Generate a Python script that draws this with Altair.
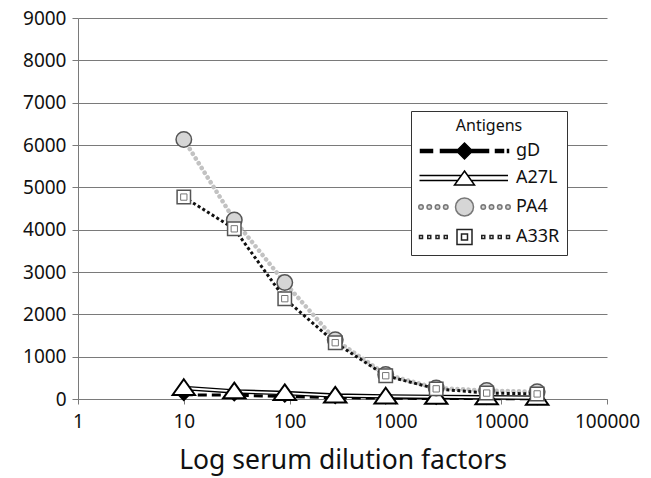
import altair as alt
import pandas as pd

# ---- data ----
dilution = [10, 30, 90, 270, 810, 2430, 7290, 21870]
series_names = ["gD", "A27L", "PA4", "A33R"]
gD = [100, 90, 60, 30, 20, 10, 10, 5]
A27L = [260, 180, 140, 80, 60, 50, 40, 30]
PA4 = [6130, 4230, 2750, 1400, 580, 260, 200, 170]
A33R = [4770, 4020, 2370, 1330, 550, 240, 140, 120]
x_ticks = [1, 10, 100, 1000, 10000, 100000]
y_ticks = [0, 1000, 2000, 3000, 4000, 5000, 6000, 7000, 8000, 9000]

rows = []
for name, vals in zip(series_names, [gD, A27L, PA4, A33R]):
    for d, v in zip(dilution, vals):
        rows.append({"series": name, "dilution": d, "value": v})
df = pd.DataFrame(rows)

FONT = "Noto Sans"
GRID = "#7a7a7a"

x = alt.X(
    "dilution:Q",
    scale=alt.Scale(type="log", domain=[1, 100000]),
    axis=alt.Axis(
        values=x_ticks, format="d", title="Log serum dilution factors",
        grid=False, domainColor=GRID, tickColor=GRID, tickSize=5,
        labelFont=FONT, labelFontSize=19, labelColor="#111", labelPadding=8,
        labelFlush=False, labelOverlap=False,
        titleFont=FONT, titleFontSize=26.5, titleFontWeight="normal",
        titleColor="#111", titlePadding=16,
    ),
)
y = alt.Y(
    "value:Q",
    scale=alt.Scale(domain=[0, 9000], nice=False),
    axis=alt.Axis(
        values=y_ticks, format="d", title=None, grid=True, gridColor=GRID,
        gridWidth=1, domainColor=GRID, tickColor=GRID, tickSize=6,
        labelFont=FONT, labelFontSize=19, labelColor="#111", labelPadding=6,
        labelFlush=False, labelOverlap=False,
    ),
)

base = alt.Chart(df).encode(x=x, y=y)


def sub(name):
    return base.transform_filter(alt.datum.series == name)


tri_path = "M0,-0.78 L1,0.62 L-1,0.62 Z"

gD_line = sub("gD").mark_line(color="black", strokeWidth=3, strokeDash=[9, 5])
gD_pts = sub("gD").mark_point(shape="diamond", filled=True, fill="black",
                              stroke="black", size=110, opacity=1)
A27L_outer = sub("A27L").mark_line(color="black", strokeWidth=4.5)
A27L_inner = sub("A27L").mark_line(color="white", strokeWidth=1.8)
A27L_pts = sub("A27L").mark_point(shape=tri_path, filled=True, fill="white",
                                  stroke="black", strokeWidth=2, size=500, opacity=1)
PA4_line = sub("PA4").mark_line(color="#c2c2c2", strokeWidth=4.5,
                                strokeDash=[0.1, 5.5], strokeCap="round")
PA4_pts = sub("PA4").mark_point(shape="circle", filled=True, fill="#d6d6d6",
                                stroke="#555555", strokeWidth=1.5, size=240, opacity=1)
A33R_line = sub("A33R").mark_line(color="#111111", strokeWidth=3, strokeDash=[3, 2.5])
A33R_pts = sub("A33R").mark_point(shape="square", filled=True, fill="white",
                                  stroke="#555555", strokeWidth=1.5, size=180, opacity=1)
A33R_inner = sub("A33R").mark_point(shape="square", filled=False, stroke="#777777",
                                    strokeWidth=1, size=40, opacity=1)


# ---- legend symbols: line + marker drawn as one custom symbol path ----
S = -0.5  # horizontal shift of the legend symbols (in symbol units)


def rect(x0, x1, h):
    x0, x1 = x0 + S, x1 + S
    return f"M{x0},{-h} L{x1},{-h} L{x1},{h} L{x0},{h} Z"


def circ(cx, r):
    cx = cx + S
    return (f"M{cx - r},0 A{r},{r} 0 1,1 {cx + r},0 "
            f"A{r},{r} 0 1,1 {cx - r},0 Z")


def seg(x0, x1, yy):
    return f"M{x0 + S},{yy} L{x1 + S},{yy}"


dots = [-0.7, 0.95, 2.6, 4.25, 11.75, 13.4, 15.05, 16.7]
leg_gD = " ".join([rect(-0.8, 1.6, 0.3), rect(3.2, 6.6, 0.3),
                   f"M{8 + S},-1.6 L{9.6 + S},0 L{8 + S},1.6 L{6.4 + S},0 Z",
                   rect(9.4, 12.8, 0.3), rect(14.2, 15.8, 0.3),
                   rect(16.6, 16.8, 0.3)])
leg_A27L = " ".join([seg(-1, 7.36, -0.5), seg(8.64, 16.7, -0.5),
                     seg(-1, 6.64, 0.5), seg(9.36, 16.7, 0.5),
                     f"M{8 + S},-1.4 L{10 + S},1.4 L{6 + S},1.4 Z"])
leg_PA4 = " ".join([circ(c, 0.45) for c in dots] + [circ(8, 1.8)])
leg_A33R = " ".join([rect(c - 0.3, c + 0.3, 0.3) for c in dots] +
                    [rect(6.5, 9.5, 1.5), rect(7.4, 8.6, 0.6)])

legend = alt.Legend(
    title="Antigens", orient="none", legendX=333, legendY=93,
    direction="vertical", padding=7, strokeColor="#333333", fillColor="white",
    symbolSize=100, symbolStrokeWidth=1.5, labelOffset=80,
    labelFont=FONT, labelFontSize=18, labelColor="#111",
    titleFont=FONT, titleFontSize=16, titleFontWeight="normal", titleColor="#111",
    titleAnchor="middle", titlePadding=8, rowPadding=6,
)

legend_layer = base.transform_filter("false").mark_point(filled=True, opacity=1).encode(
    shape=alt.Shape("series:N", scale=alt.Scale(domain=series_names,
                    range=[leg_gD, leg_A27L, leg_PA4, leg_A33R]), legend=legend),
    fill=alt.Fill("series:N", scale=alt.Scale(domain=series_names,
                  range=["black", "white", "#d6d6d6", "white"]), title="Antigens"),
    stroke=alt.Stroke("series:N", scale=alt.Scale(domain=series_names,
                      range=["black", "black", "#777777", "#222222"]), title="Antigens"),
)

chart = alt.layer(
    gD_line, gD_pts, A27L_outer, A27L_inner, A27L_pts,
    PA4_line, PA4_pts, A33R_line, A33R_pts, A33R_inner, legend_layer,
).properties(
    width=529, height=381,
    autosize=alt.AutoSizeParams(type="none"),
    padding={"left": 78, "top": 18, "right": 44, "bottom": 79},
    background="white",
).configure_view(stroke=None)

chart.save("out.html", embed_options={"renderer": "svg", "actions": False})
